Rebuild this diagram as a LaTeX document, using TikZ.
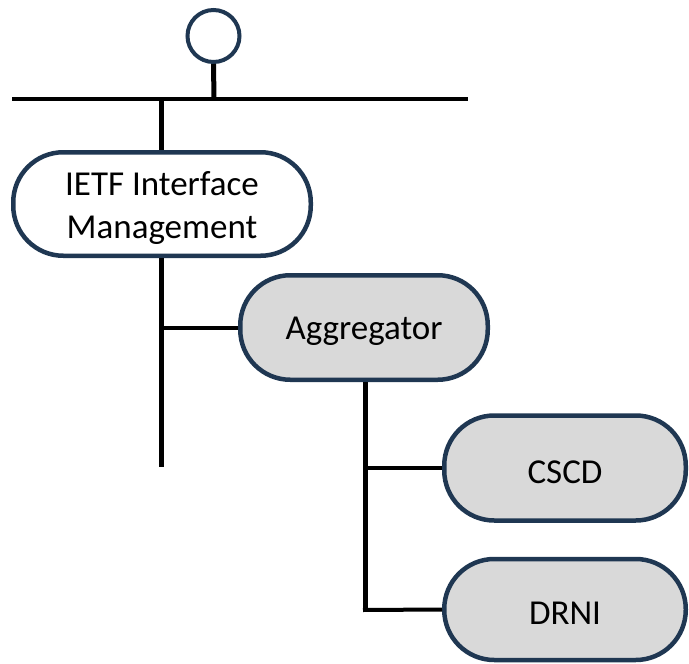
\documentclass[tikz,border=0pt]{standalone}
\usepackage{fontspec}
\setmainfont{Carlito}
\definecolor{navy}{HTML}{1F3752}
\definecolor{boxgray}{HTML}{D9D9D9}
\begin{document}
\begin{tikzpicture}[x=1pt,y=-1pt,
  pill/.style={draw=navy,line width=4.5pt,rectangle,rounded corners=50pt,inner sep=0pt},
  pilltext/.style={font=\fontsize{35}{43}\selectfont,align=center,yshift=-4pt,inner sep=0pt},
  trunk/.style={draw=black,line width=5pt},
  branch/.style={draw=black,line width=4pt}]
\useasboundingbox (0,0) rectangle (689,664);
\node[draw=navy,line width=4pt,circle,minimum size=52pt,inner sep=0pt] (top) at (213.5,36) {};
\coordinate (barL) at (12,99);
\coordinate (barR) at (468,99);
\coordinate (barJ) at (214,99);
\node[pill,fill=white,minimum width=297.5pt,minimum height=103.5pt,
  label={[pilltext,name=ietflabel]center:IETF Interface\\Management}] (ietf) at (162,204) {};
\node[pill,fill=boxgray,minimum width=247.5pt,minimum height=104.5pt,
  label={[pilltext,name=agglabel]center:Aggregator}] (agg) at (364,327.5) {};
\node[pill,fill=boxgray,minimum width=241.5pt,minimum height=105pt,
  label={[pilltext,name=cscdlabel]center:CSCD}] (cscd) at (565,468) {};
\node[pill,fill=boxgray,minimum width=241.5pt,minimum height=101pt,
  label={[pilltext,name=drnilabel]center:DRNI}] (drni) at (565,609.5) {};
\coordinate (ietfend) at (161,467);
\coordinate (aggend) at (365,612);
\draw[line width=4.5pt] (barL) -- (barR);
\draw[trunk] (top.south) -- (barJ);
\draw[trunk] (161,99) -- (ietf.north -| 161,0);
\draw[trunk] (ietf.south -| 161,0) -- (ietfend);
\draw[branch] (ietfend |- agg.west) -- (agg.west);
\draw[trunk] (agg.south -| aggend) -- (aggend);
\draw[branch] (aggend |- cscd.west) -- (cscd.west);
\draw[branch] (363,610) -- (drni.west);
\end{tikzpicture}
\end{document}
